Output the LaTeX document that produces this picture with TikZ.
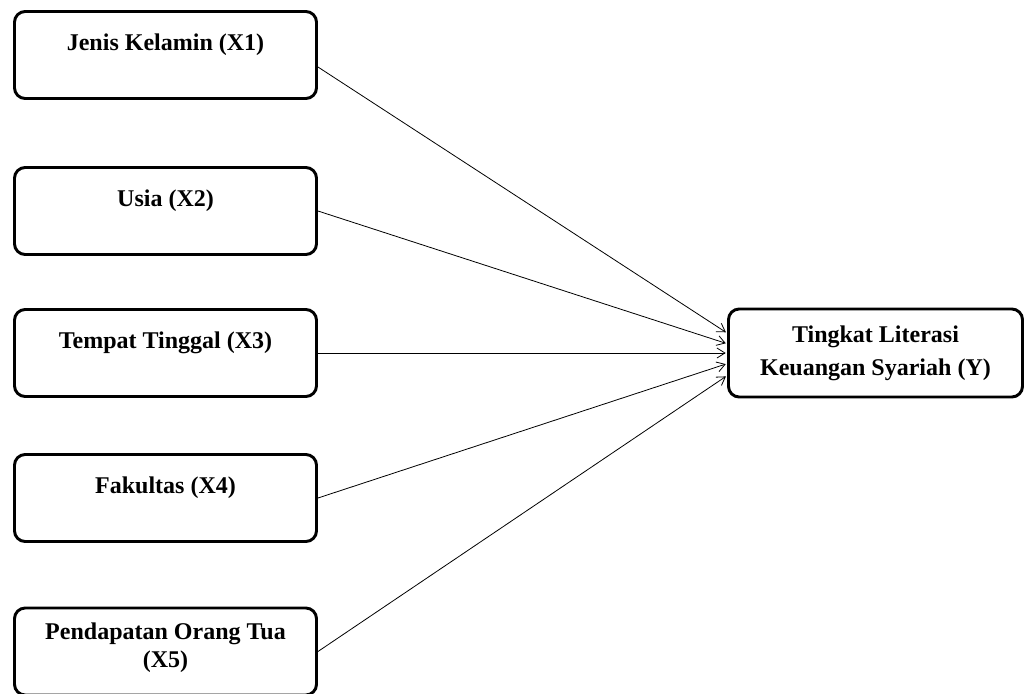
\documentclass[tikz,border=0pt]{standalone}
\usepackage{fontspec}
\setmainfont{Liberation Serif}
\usepackage{tikz}
\usetikzlibrary{arrows.meta, positioning}

\tikzset{
  varbox/.style={draw, line width=2.2pt, rounded corners=8pt, inner sep=0pt,
    minimum width=226.5pt, minimum height=65.25pt, align=center, text depth=19pt,
    font=\fontsize{18pt}{21pt}\selectfont\bfseries},
  outbox/.style={draw, line width=2.2pt, rounded corners=8pt, inner sep=0pt,
    minimum width=220.5pt, minimum height=66pt, align=center,
    font=\fontsize{18pt}{24.75pt}\selectfont\bfseries},
  link/.style={line width=0.6pt, -{Straight Barb[length=6pt, width=7.5pt]}, shorten >=1pt}
}

\begin{document}
\begin{tikzpicture}[x=0.75pt, y=-0.75pt]
  \useasboundingbox (0,0) rectangle (1028,693);

  % independent variables
  \node[varbox] (x1) at (165.5,55) {Jenis Kelamin (X1)};
  \node[varbox] (x2) at (165.5,211) {Usia (X2)};
  \node[varbox] (x3) at (165.5,353) {Tempat Tinggal (X3)};
  \node[varbox] (x4) at (165.5,498) {Fakultas (X4)};
  \node[varbox, text depth=10pt] (x5) at (165.5,651.5) {Pendapatan Orang Tua\\(X5)};

  % dependent variable
  \node[outbox] (y) at (875.5,353) {Tingkat Literasi\\Keuangan Syariah (Y)};

  % connectors
  \draw[link] ([yshift=-9pt]x1.east) -- ([yshift=15pt]y.west);
  \draw[link] (x2.east) -- ([yshift=7pt]y.west);
  \draw[link] (x3.east) -- (y.west);
  \draw[link] (x4.east) -- ([yshift=-8pt]y.west);
  \draw[link] (x5.east) -- ([yshift=-17pt]y.west);
\end{tikzpicture}
\end{document}
